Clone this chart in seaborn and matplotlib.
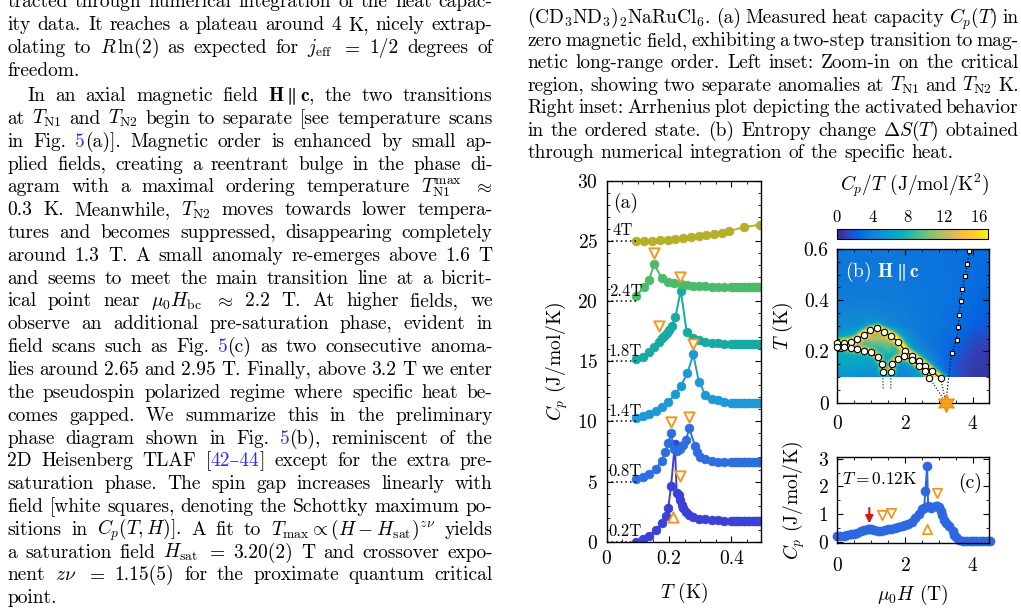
import re
import numpy as np
import pandas as pd
import matplotlib
matplotlib.use("Agg")
import matplotlib.pyplot as plt
import seaborn as sns
from matplotlib.colors import LinearSegmentedColormap
from matplotlib.ticker import MultipleLocator, FixedLocator, FixedFormatter

# ---------------- data: panel (a)  Cp(T) scans, offset by 5 J/mol/K ----------------
DENSE_T = [0.400, 0.406, 0.413, 0.419, 0.426, 0.432, 0.439, 0.445, 0.452, 0.458,
           0.465, 0.471, 0.478, 0.484, 0.490]

T_02 = [0.095, 0.116, 0.137, 0.158, 0.177, 0.190, 0.198, 0.207, 0.219, 0.225, 0.231,
        0.236, 0.241, 0.246, 0.255, 0.265, 0.278, 0.296, 0.317, 0.337, 0.357, 0.377] + DENSE_T
C_02 = [0.00, 0.20, 0.50, 0.94, 1.53, 2.14, 2.83, 4.66, 8.10, 4.02, 3.88,
        3.47, 3.05, 2.77, 2.50, 2.22, 2.03, 1.91, 1.86, 1.80, 1.78, 1.76] + \
       [1.75, 1.75, 1.75, 1.75, 1.75, 1.75, 1.75, 1.75, 1.75, 1.75, 1.75, 1.75, 1.75, 1.75, 1.75]

T_08 = [0.095, 0.116, 0.137, 0.158, 0.177, 0.188, 0.198, 0.207, 0.216, 0.227, 0.236,
        0.246, 0.255, 0.265, 0.284, 0.289, 0.300, 0.317, 0.337, 0.357, 0.377] + DENSE_T
C_08 = [5.18, 5.35, 5.60, 6.04, 6.73, 7.45, 8.20, 9.00, 7.68, 7.53, 7.73,
        8.03, 8.45, 9.42, 7.95, 7.42, 7.06, 6.87, 6.73, 6.65, 6.62] + \
       [6.60, 6.60, 6.60, 6.60, 6.60, 6.60, 6.60, 6.60, 6.60, 6.60, 6.60, 6.60, 6.60, 6.60, 6.60]

T_14 = [0.095, 0.116, 0.136, 0.158, 0.177, 0.198, 0.220, 0.238, 0.259, 0.278, 0.296,
        0.317, 0.337, 0.357, 0.377] + DENSE_T
C_14 = [10.25, 10.42, 10.64, 10.89, 11.22, 11.58, 12.27, 12.94, 13.99, 15.57, 13.30,
        12.19, 11.89, 11.75, 11.64] + \
       [11.55, 11.55, 11.55, 11.55, 11.55, 11.55, 11.55, 11.55, 11.55, 11.55, 11.55, 11.55, 11.55, 11.55, 11.55]

T_18 = [0.095, 0.116, 0.136, 0.153, 0.168, 0.177, 0.184, 0.193, 0.200, 0.209, 0.221,
        0.238, 0.257, 0.278, 0.296, 0.317, 0.337, 0.357, 0.377] + DENSE_T
C_18 = [15.21, 15.37, 15.79, 16.20, 16.62, 16.90, 17.12, 17.34, 17.59, 17.92, 18.70,
        20.87, 17.40, 16.95, 16.76, 16.59, 16.54, 16.48, 16.45] + \
       [16.43, 16.43, 16.43, 16.43, 16.43, 16.43, 16.43, 16.43, 16.43, 16.43, 16.43, 16.43, 16.43, 16.43, 16.43]

T_24 = [0.095, 0.121, 0.136, 0.153, 0.177, 0.198, 0.216, 0.238, 0.257, 0.276, 0.296,
        0.317, 0.337, 0.356, 0.376] + DENSE_T
C_24 = [20.42, 21.17, 21.75, 23.05, 21.89, 21.61, 21.53, 21.41, 21.33, 21.28, 21.25,
        21.22, 21.19, 21.19, 21.19] + \
       [21.19, 21.19, 21.19, 21.19, 21.19, 21.19, 21.19, 21.19, 21.19, 21.19, 21.19, 21.19, 21.19, 21.19, 21.19]

T_40 = [0.095, 0.120, 0.147, 0.171, 0.196, 0.221, 0.246, 0.271, 0.295, 0.320, 0.344,
        0.369, 0.394, 0.441, 0.492]
C_40 = [24.99, 24.99, 25.01, 25.04, 25.10, 25.15, 25.20, 25.30, 25.37, 25.46, 25.57,
        25.68, 25.82, 26.15, 26.34]

FIELDS = ["0.2T", "0.8T", "1.4T", "1.8T", "2.4T", "4T"]
OFFSETS = [0, 5, 10, 15, 20, 25]
SERIES_T = [T_02, T_08, T_14, T_18, T_24, T_40]
SERIES_C = [C_02, C_08, C_14, C_18, C_24, C_40]
COLORS = ["#3a41d4", "#2e6fe0", "#1f98d6", "#16aaa2", "#4dba6a", "#b5b02a"]

TRI_DN_T = [0.153, 0.236, 0.167, 0.276, 0.206, 0.265, 0.236]
TRI_DN_C = [23.96, 21.97, 17.95, 16.45, 9.98, 10.40, 5.46]
TRI_UP_T = [0.212]
TRI_UP_C = [2.08]

# ---------------- data: panel (b) phase diagram ----------------
N1_H = [0.00, 0.21, 0.41, 0.60, 0.79, 0.97, 1.19, 1.39, 1.60, 1.80, 2.00, 2.20, 2.40, 2.60, 2.80, 3.05]
N1_T = [0.232, 0.234, 0.236, 0.247, 0.266, 0.282, 0.290, 0.275, 0.260, 0.236, 0.203, 0.183, 0.163, 0.143, 0.122, 0.095]
N2_H = [0.00, 0.21, 0.41, 0.60, 0.79, 0.99, 1.20, 1.31, 1.34]
N2_T = [0.219, 0.216, 0.212, 0.208, 0.203, 0.197, 0.177, 0.151, 0.118]
RE_H = [1.58, 1.61, 1.78, 1.97, 2.20, 2.42, 2.58, 2.72]
RE_T = [0.118, 0.151, 0.169, 0.182, 0.165, 0.145, 0.125, 0.097]
SQ_H = [3.37, 3.52, 3.57, 3.59, 3.64, 3.69, 3.76, 3.83, 3.89]
SQ_T = [0.195, 0.245, 0.297, 0.343, 0.397, 0.443, 0.493, 0.541, 0.591]
H_SAT = 3.20

# background Cp/T (rows: T, cols: H)
BG_H = [0.0, 0.5, 1.0, 1.5, 2.0, 2.5, 3.0, 3.5, 4.0, 4.5]
BG_T = [0.10, 0.15, 0.20, 0.25, 0.30, 0.40, 0.50, 0.60]
BG_V = [
    [5.0, 5.0, 4.5, 4.0, 4.5, 5.5, 4.0, 1.5, 0.6, 0.5],
    [6.5, 6.5, 6.0, 4.0, 5.0, 6.0, 3.5, 1.5, 0.8, 0.6],
    [7.0, 7.0, 6.0, 9.0, 6.5, 4.5, 3.0, 2.0, 1.0, 0.8],
    [6.0, 7.0, 12.0, 11.0, 5.5, 3.5, 3.0, 2.5, 1.5, 1.2],
    [4.5, 4.8, 5.0, 4.5, 4.0, 3.5, 3.2, 2.8, 2.2, 1.8],
    [3.8, 3.8, 3.8, 3.7, 3.6, 3.4, 3.2, 3.0, 2.6, 2.2],
    [3.5, 3.5, 3.5, 3.5, 3.4, 3.3, 3.2, 3.0, 2.8, 2.5],
    [3.4, 3.4, 3.4, 3.4, 3.3, 3.2, 3.1, 3.0, 2.9, 2.7],
]
RIDGE_AMP = [13.0, 8.0, 12.0]  # N1, N2, re-emergent / pre-saturation lines

# ---------------- data: panel (c) field scan at 0.12 K ----------------
C_H = [0.00, 0.10, 0.20, 0.30, 0.40, 0.50, 0.60, 0.70, 0.80, 0.90, 0.95, 1.00, 1.10, 1.20,
       1.30, 1.40, 1.50, 1.60, 1.70, 1.80, 1.90, 2.00, 2.10, 2.20, 2.30, 2.40, 2.50, 2.56,
       2.60, 2.65, 2.68, 2.75, 2.80, 2.90, 2.95, 3.00, 3.05, 3.10, 3.15, 3.20, 3.30, 3.40,
       3.45, 3.50, 3.60, 3.70, 3.80, 3.90, 4.00, 4.10, 4.20, 4.30, 4.40, 4.50]
C_CP = [0.20, 0.20, 0.21, 0.23, 0.26, 0.29, 0.33, 0.37, 0.42, 0.46, 0.47, 0.46, 0.42, 0.38,
        0.38, 0.42, 0.44, 0.47, 0.50, 0.53, 0.56, 0.60, 0.65, 0.72, 0.85, 1.00, 1.17, 1.22,
        1.85, 2.75, 1.30, 1.22, 1.25, 1.30, 1.30, 1.25, 1.12, 0.95, 0.80, 0.68, 0.55, 0.40,
        0.25, 0.15, 0.07, 0.04, 0.03, 0.02, 0.02, 0.02, 0.02, 0.02, 0.02, 0.02]
C_TRI_DN_H = [1.31, 1.59, 2.93]
C_TRI_DN_C = [0.97, 1.05, 1.78]
C_TRI_UP_H = [2.64]
C_TRI_UP_C = [0.46]
ARROW_H = 0.95

# ---------------- text ----------------
LEFT_LINES = [
    "tracted through numerical integration of the heat capac-",
    "ity data. It reaches a plateau around 4 K, nicely extrap-",
    r"olating to $R\,\ln(2)$ as expected for $j_{\rm eff}$ $=$ 1/2 degrees of",
    "freedom.",
    r"In an axial magnetic field $\mathbf{H}\parallel\mathbf{c}$, the two transitions",
    r"at $T_{\rm N1}$ and $T_{\rm N2}$ begin to separate [see temperature scans",
    "in Fig. #5#(a)]. Magnetic order is enhanced by small ap-",
    "plied fields, creating a reentrant bulge in the phase di-",
    r"agram with a maximal ordering temperature $T_{\rm N1}^{\rm max}$ $\approx$",
    r"0.3 K. Meanwhile, $T_{\rm N2}$ moves towards lower tempera-",
    "tures and becomes suppressed, disappearing completely",
    "around 1.3 T. A small anomaly re-emerges above 1.6 T",
    "and seems to meet the main transition line at a bicrit-",
    r"ical point near $\mu_0H_{\rm bc}$ $\approx$ 2.2 T. At higher fields, we",
    "observe an additional pre-saturation phase, evident in",
    "field scans such as Fig. #5#(c) as two consecutive anoma-",
    "lies around 2.65 and 2.95 T. Finally, above 3.2 T we enter",
    "the pseudospin polarized regime where specific heat be-",
    "comes gapped. We summarize this in the preliminary",
    "phase diagram shown in Fig. #5#(b), reminiscent of the",
    "2D Heisenberg TLAF [#42\u201344#] except for the extra pre-",
    "saturation phase. The spin gap increases linearly with",
    "field [white squares, denoting the Schottky maximum po-",
    r"sitions in $C_p(T,H)$]. A fit to $T_{\rm max}\propto(H-H_{\rm sat})^{z\nu}$ yields",
    r"a saturation field $H_{\rm sat}$ $=$ 3.20(2) T and crossover expo-",
    r"nent $z\nu$ $=$ 1.15(5) for the proximate quantum critical",
    "point.",
]
LEFT_BASE = [7.1, 30.0, 52.9, 75.8, 101.0, 124.0, 146.8, 169.6, 192.4, 215.2, 238.0,
             260.9, 283.7, 306.5, 329.3, 352.2, 375.0, 397.8, 420.6, 443.5, 466.3,
             489.1, 511.9, 534.7, 557.6, 580.4, 603.2]
LEFT_NOJUST = [3, 26]
LEFT_INDENT = [4]

RIGHT_LINES = [
    r"(CD$_3$ND$_3$)$_2$NaRuCl$_6$. (a) Measured heat capacity $C_p(T)$ in",
    "zero magnetic field, exhibiting a two-step transition to mag-",
    "netic long-range order. Left inset: Zoom-in on the critical",
    r"region, showing two separate anomalies at $T_{\rm N1}$ and $T_{\rm N2}$ K.",
    "Right inset: Arrhenius plot depicting the activated behavior",
    r"in the ordered state. (b) Entropy change $\Delta S(T)$ obtained",
    "through numerical integration of the specific heat.",
]
RIGHT_BASE = [23.3, 45.8, 68.3, 90.8, 113.3, 135.8, 158.3]
RIGHT_NOJUST = [6]

# ---------------- style ----------------
sns.set_theme(style="ticks")
plt.rcParams.update({
    "font.family": ["cmr10", "DejaVu Serif"],
    "mathtext.fontset": "cm",
    "axes.formatter.use_mathtext": True,
    "axes.unicode_minus": False,
    "axes.edgecolor": "black",
    "axes.linewidth": 1.0,
    "xtick.direction": "in", "ytick.direction": "in",
    "xtick.top": True, "ytick.right": True,
    "xtick.color": "black", "ytick.color": "black",
    "text.color": "black", "axes.labelcolor": "black",
    "xtick.major.size": 4.5, "ytick.major.size": 4.5,
    "xtick.minor.size": 2.5, "ytick.minor.size": 2.5,
    "xtick.major.width": 0.8, "ytick.major.width": 0.8,
    "xtick.minor.width": 0.6, "ytick.minor.width": 0.6,
    "font.size": 14,
})

W, HP = 1021, 615
fig = plt.figure(figsize=(W / 100, HP / 100), dpi=100)
fig.patch.set_facecolor("white")
renderer = fig.canvas.get_renderer()


def fx(x):
    return x / W


def fy(y):
    return 1 - y / HP


LINK = "#3030e0"
FS_TXT = 14.0
WORD_RE = re.compile(r"(?:\$[^$]*\$|[^ $])+")


def place_line(text, x0, x1, yb, justify=True):
    words = WORD_RE.findall(text)
    items, widths = [], []
    for w in words:
        segs = w.split("#")
        objs, wsum = [], 0.0
        for i, s in enumerate(segs):
            if s == "":
                continue
            t = fig.text(0, fy(yb), s, fontsize=FS_TXT, color=LINK if i % 2 else "black",
                         va="baseline", ha="left")
            bw = t.get_window_extent(renderer).width
            objs.append((t, bw))
            wsum += bw
        items.append(objs)
        widths.append(wsum)
    total = sum(widths)
    if justify and len(words) > 1:
        gap = (x1 - x0 - total) / (len(words) - 1)
    else:
        gap = FS_TXT * 100 / 72 * 0.333
    x = x0
    for objs, w in zip(items, widths):
        xx = x
        for t, bw in objs:
            t.set_x(fx(xx))
            xx += bw
        x += w + gap


for i, (ln, yb) in enumerate(zip(LEFT_LINES, LEFT_BASE)):
    x0 = 7.3 + (20.0 if i in LEFT_INDENT else 0.0)
    place_line(ln, x0, 492.7, yb, justify=i not in LEFT_NOJUST)
for i, (ln, yb) in enumerate(zip(RIGHT_LINES, RIGHT_BASE)):
    place_line(ln, 527.3, 1018.5, yb, justify=i not in RIGHT_NOJUST)

ORANGE = "#f5961e"

# ---------------- panel (a) ----------------
ax_a = fig.add_axes([fx(606.5), fy(541.7), (761 - 606.5) / W, (541.7 - 180.7) / HP])
rows = []
for f, off, ts, cs in zip(FIELDS, OFFSETS, SERIES_T, SERIES_C):
    for t, c in zip(ts, cs):
        rows.append({"field": f, "T": t, "Cp": c, "off": off})
df_a = pd.DataFrame(rows)
for f, off, col in zip(FIELDS, OFFSETS, COLORS):
    sub = df_a[df_a.field == f]
    sns.lineplot(data=sub, x="T", y="Cp", ax=ax_a, color=col, sort=False, estimator=None,
                 marker="o", markersize=6.2, markeredgecolor=col, markeredgewidth=0.6,
                 linewidth=1.4, legend=False)
    ax_a.plot([0, 0.097], [off, off], ls=(0, (1, 2)), color="black", lw=1.1)
    ax_a.text(0.018 if f == "4T" else 0.007, off + 0.45, f, fontsize=12, ha="left", va="baseline")
sns.scatterplot(x=TRI_DN_T, y=TRI_DN_C, ax=ax_a, marker="v", s=55, color="white",
                edgecolor=ORANGE, linewidth=1.4, zorder=5)
sns.scatterplot(x=TRI_UP_T, y=TRI_UP_C, ax=ax_a, marker="^", s=55, color="white",
                edgecolor=ORANGE, linewidth=1.4, zorder=5)
ax_a.set_xlim(0, 0.495)
ax_a.set_ylim(0, 30)
ax_a.xaxis.set_major_locator(FixedLocator([0, 0.2, 0.4]))
ax_a.xaxis.set_major_formatter(FixedFormatter(["0", "0.2", "0.4"]))
ax_a.xaxis.set_minor_locator(MultipleLocator(0.05))
ax_a.yaxis.set_major_locator(MultipleLocator(5))
ax_a.yaxis.set_minor_locator(MultipleLocator(1))
ax_a.tick_params(which="both", labelsize=14)
ax_a.tick_params(axis="x", which="major", pad=6)
ax_a.tick_params(axis="y", which="major", pad=6)
ax_a.set_xlabel("$T$ (K)", fontsize=14)
ax_a.set_ylabel("$C_p$ (J/mol/K)", fontsize=14)
ax_a.xaxis.set_label_coords(0.5, -0.108)
ax_a.yaxis.set_label_coords(-0.236, 0.5)
ax_a.text(0.04, 0.925, "(a)", transform=ax_a.transAxes, fontsize=14, ha="left", va="baseline")

# ---------------- panel (b) ----------------
parula_pts = [(0.2081, 0.1663, 0.5292), (0.1959, 0.2645, 0.7279), (0.0117, 0.3875, 0.8820),
              (0.0498, 0.4586, 0.8641), (0.0793, 0.5200, 0.8312), (0.0343, 0.5966, 0.8199),
              (0.0228, 0.6535, 0.7768), (0.0843, 0.6928, 0.7062), (0.2178, 0.7250, 0.6193),
              (0.3953, 0.7459, 0.5244), (0.5709, 0.7485, 0.4494), (0.7184, 0.7411, 0.3905),
              (0.8507, 0.7299, 0.3360), (0.9739, 0.7314, 0.2666), (0.9955, 0.7861, 0.1967),
              (0.9626, 0.8705, 0.1309), (0.9763, 0.9831, 0.0538)]
pos = [0, 4, 8, 12, 16, 20, 24, 28, 32, 36, 40, 44, 48, 52, 56, 60, 63]
parula = LinearSegmentedColormap.from_list("parula", [(p / 63, c) for p, c in zip(pos, parula_pts)])

hg = np.linspace(0, 4.5, 271)
tg = np.linspace(0.1, 0.6, 301)
HH, TT = np.meshgrid(hg, tg)
bgv = np.array(BG_V)
tmp = np.array([np.interp(hg, BG_H, row) for row in bgv])  # (nT_bg, nH)
Z = np.array([np.interp(tg, BG_T, tmp[:, j]) for j in range(len(hg))]).T


def ridge(hs, ts, sh=0.085, st=0.011):
    hs = np.asarray(hs) / sh
    ts = np.asarray(ts) / st
    X = HH / sh
    Y = TT / st
    dmin = np.full(HH.shape, np.inf)
    for i in range(len(hs) - 1):
        ax_, ay = hs[i], ts[i]
        vx, vy = hs[i + 1] - ax_, ts[i + 1] - ay
        L2 = vx * vx + vy * vy
        t = np.clip(((X - ax_) * vx + (Y - ay) * vy) / L2, 0, 1)
        d = (X - ax_ - t * vx) ** 2 + (Y - ay - t * vy) ** 2
        dmin = np.minimum(dmin, d)
    return np.exp(-dmin / 2)


Z = Z + RIDGE_AMP[0] * ridge(N1_H, N1_T) + RIDGE_AMP[1] * ridge(N2_H, N2_T) + \
    RIDGE_AMP[2] * ridge(RE_H, RE_T)
Z = np.clip(Z, 0, 17.5)

ax_b = fig.add_axes([fx(837), fy(402.7), 152 / W, (402.7 - 249) / HP])
im = ax_b.imshow(Z, origin="lower", extent=[0, 4.5, 0.1, 0.6], aspect="auto", cmap=parula,
                 vmin=0, vmax=17, interpolation="bilinear", zorder=0)
ax_b.set_facecolor("white")
ax_b.plot([N2_H[-1], 1.36], [N2_T[-1], 0.05], ls=":", color="black", lw=0.8)
ax_b.plot([RE_H[0], 1.585], [RE_T[0], 0.05], ls=":", color="black", lw=0.8)
ax_b.plot([RE_H[-1], H_SAT], [RE_T[-1], 0.0], ls=":", color="black", lw=0.8)
ax_b.plot([N1_H[-1], H_SAT], [N1_T[-1], 0.0], ls=":", color="black", lw=0.8)
ax_b.plot([H_SAT] + SQ_H, [0.0] + SQ_T, ls=":", color="black", lw=0.9)
for hs, ts in [(N1_H, N1_T), (N2_H, N2_T), (RE_H, RE_T)]:
    sns.lineplot(x=hs, y=ts, ax=ax_b, sort=False, estimator=None, color="black", lw=0.8,
                 marker="o", markersize=4.6, markerfacecolor="white", markeredgecolor="black",
                 markeredgewidth=0.8, clip_on=False, zorder=4)
sns.scatterplot(x=SQ_H, y=SQ_T, ax=ax_b, marker="s", s=11, color="white", edgecolor="black",
                linewidth=0.8, zorder=5)
ax_b.plot([H_SAT], [0.0], marker=(6, 1, 0), ms=13, color="#f6a01a", clip_on=False, zorder=6,
          markeredgecolor="#f08c10")
ax_b.set_xlim(0, 4.47)
ax_b.set_ylim(0, 0.6)
ax_b.xaxis.set_major_locator(MultipleLocator(2))
ax_b.xaxis.set_minor_locator(MultipleLocator(0.5))
ax_b.yaxis.set_major_locator(FixedLocator([0, 0.2, 0.4, 0.6]))
ax_b.yaxis.set_major_formatter(FixedFormatter(["0", "0.2", "0.4", "0.6"]))
ax_b.yaxis.set_minor_locator(MultipleLocator(0.05))
ax_b.tick_params(which="both", labelsize=14)
ax_b.tick_params(axis="x", which="major", pad=9)
ax_b.tick_params(axis="y", which="major", pad=6)
ax_b.set_ylabel("$T$ (K)", fontsize=14)
ax_b.yaxis.set_label_coords(-0.276, 0.5)
ax_b.text(0.05, 0.82, r"(b) $\mathbf{H}\parallel\mathbf{c}$", transform=ax_b.transAxes,
          fontsize=14, color="white", ha="left", va="baseline")

cax = fig.add_axes([fx(837), fy(238.7), 151 / W, 10 / HP])
cb = fig.colorbar(im, cax=cax, orientation="horizontal")
cb.set_ticks([0, 4, 8, 12, 16])
cb.outline.set_edgecolor("black")
cb.outline.set_linewidth(0.8)
cax.xaxis.set_ticks_position("top")
cax.tick_params(axis="x", length=0, labelsize=12, pad=3, top=True, bottom=False,
                labeltop=True, labelbottom=False)
cax.tick_params(axis="y", left=False, right=False)
fig.text(fx(915), fy(185), "$C_p/T$ (J/mol/K$^2$)", fontsize=14, ha="center", va="center")

# ---------------- panel (c) ----------------
ax_c = fig.add_axes([fx(837), fy(543), 152 / W, (543 - 456.7) / HP])
sns.lineplot(x=C_H, y=C_CP, ax=ax_c, sort=False, estimator=None, color="#2c68e0", lw=1.4,
             marker="o", markersize=6.5, markeredgecolor="#2c68e0", markeredgewidth=0.5,
             clip_on=False)
sns.scatterplot(x=C_TRI_DN_H, y=C_TRI_DN_C, ax=ax_c, marker="v", s=45, color="white",
                edgecolor=ORANGE, linewidth=1.3, zorder=5)
sns.scatterplot(x=C_TRI_UP_H, y=C_TRI_UP_C, ax=ax_c, marker="^", s=45, color="white",
                edgecolor=ORANGE, linewidth=1.3, zorder=5)
ax_c.annotate("", xy=(ARROW_H, 0.66), xytext=(ARROW_H, 1.22),
              arrowprops=dict(arrowstyle="-|>", color="#d01818", lw=1.5, mutation_scale=11,
                              shrinkA=0, shrinkB=0))
ax_c.set_xlim(0, 4.47)
ax_c.set_ylim(-0.05, 3.08)
ax_c.xaxis.set_major_locator(MultipleLocator(2))
ax_c.xaxis.set_minor_locator(MultipleLocator(0.5))
ax_c.yaxis.set_major_locator(MultipleLocator(1))
ax_c.yaxis.set_minor_locator(MultipleLocator(0.5))
ax_c.tick_params(which="both", labelsize=14)
ax_c.tick_params(axis="x", which="major", pad=10)
ax_c.tick_params(axis="y", which="major", pad=6)
ax_c.set_xlabel(r"$\mu_0H$ (T)", fontsize=14)
ax_c.set_ylabel("$C_p$ (J/mol/K)", fontsize=14)
ax_c.xaxis.set_label_coords(0.5, -0.465)
ax_c.yaxis.set_label_coords(-0.197, 0.5)
ax_c.text(0.03, 0.68, "$T=0.12$K", transform=ax_c.transAxes, fontsize=12.5, ha="left",
          va="baseline")
ax_c.text(0.8, 0.64, "(c)", transform=ax_c.transAxes, fontsize=14, ha="left", va="baseline")

fig.savefig("out.png", dpi=100, facecolor="white")
